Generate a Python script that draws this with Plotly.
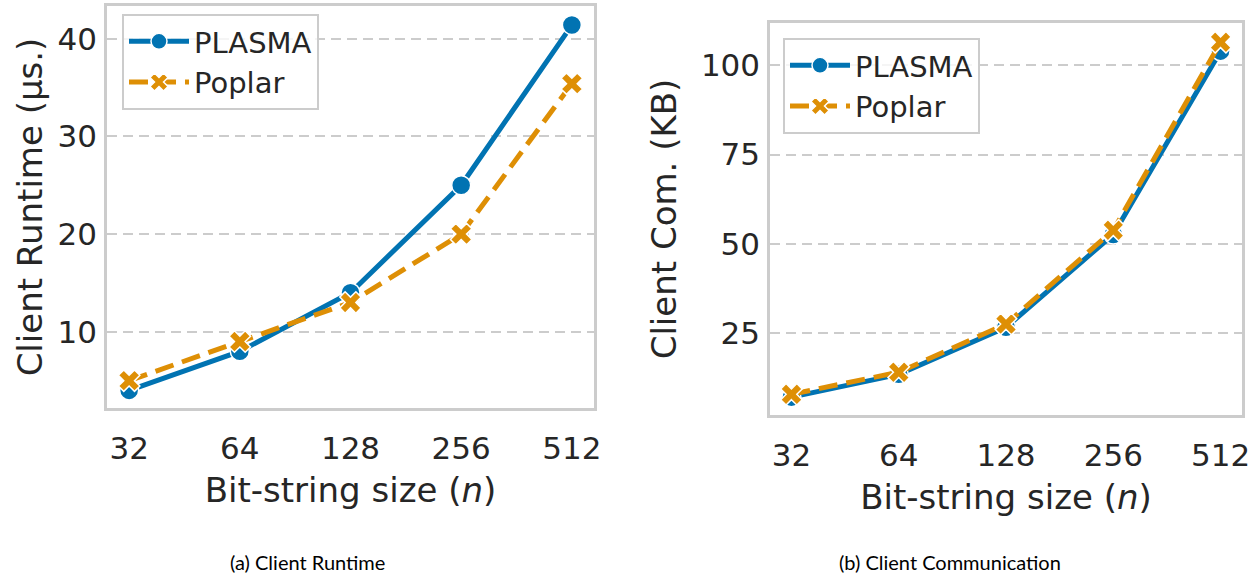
import plotly.graph_objects as go

# Bit-string sizes (categorical x axis)
sizes = ["32", "64", "128", "256", "512"]

# Client runtime in microseconds
runtime_plasma = [4.0, 8.0, 14.0, 25.0, 41.4]
runtime_poplar = [5.0, 9.0, 13.0, 20.0, 35.4]

# Client communication in KB
comm_plasma = [7.0, 13.4, 26.6, 52.6, 104.0]
comm_poplar = [7.8, 14.0, 27.5, 53.8, 106.5]

BLUE = "#0173b2"
ORANGE = "#de8f05"
GRID = "#cccccc"
TEXT = "#262626"
FONT = "DejaVu Sans"

W, H = 1257, 573


def px_x(v):
    return v / W


def px_y(v):
    return 1 - v / H


fig = go.Figure()


def add_series(xaxis, yaxis, legend, plasma, poplar):
    fig.add_trace(go.Scatter(
        x=list(range(len(sizes))), y=plasma, name="PLASMA",
        xaxis=xaxis, yaxis=yaxis, legend=legend,
        mode="lines+markers",
        line=dict(color=BLUE, width=5),
        marker=dict(symbol="circle", size=19, color=BLUE,
                    line=dict(color="white", width=1.5)),
    ))
    fig.add_trace(go.Scatter(
        x=list(range(len(sizes))), y=poplar, name="Poplar",
        xaxis=xaxis, yaxis=yaxis, legend=legend,
        mode="lines+markers",
        line=dict(color=ORANGE, width=5, dash="19px,9px"),
        marker=dict(symbol="x", size=19, color=ORANGE,
                    line=dict(color="white", width=1.5)),
    ))


add_series("x", "y", "legend", runtime_plasma, runtime_poplar)
add_series("x2", "y2", "legend2", comm_plasma, comm_poplar)

xcommon = dict(
    tickmode="array", tickvals=list(range(len(sizes))), ticktext=sizes,
    range=[-0.2, 4.2], showgrid=False, zeroline=False,
    showline=True, linecolor=GRID, linewidth=2.5, mirror=True,
    ticks="outside", ticklen=0, ticklabelstandoff=11,
    tickfont=dict(family=FONT, size=31, color=TEXT),
    title=dict(text="Bit-string size (<i>n</i>)", standoff=14,
               font=dict(family=FONT, size=34, color=TEXT)),
    automargin=False, fixedrange=True,
)
ycommon = dict(
    showgrid=True, gridcolor=GRID, gridwidth=2, griddash="10px,6px",
    zeroline=False, showline=True, linecolor=GRID, linewidth=2.5, mirror=True,
    ticks="outside", ticklen=0, ticklabelstandoff=1,
    tickfont=dict(family=FONT, size=31, color=TEXT),
    automargin=False, fixedrange=True,
)

legend_common = dict(
    bgcolor="rgba(255,255,255,0.8)", bordercolor=GRID, borderwidth=2,
    font=dict(family=FONT, size=29, color=TEXT),
    xanchor="left", yanchor="top", tracegroupgap=0,
    itemwidth=60, entrywidth=205,
)

fig.update_layout(
    width=W, height=H,
    margin=dict(l=0, r=0, t=0, b=0),
    paper_bgcolor="white", plot_bgcolor="white",
    xaxis=dict(domain=[px_x(107), px_x(594)], anchor="y", **xcommon),
    yaxis=dict(domain=[px_y(408), px_y(6)], anchor="x",
               range=[2.2, 43.35], tickvals=[10, 20, 30, 40],
               title=dict(text="Client Runtime (µs.)", standoff=5,
                          font=dict(family=FONT, size=34, color=TEXT)),
               **ycommon),
    xaxis2=dict(domain=[px_x(770), px_x(1242)], anchor="y2", **xcommon),
    yaxis2=dict(domain=[px_y(415), px_y(23)], anchor="x2",
                range=[2.0, 111.9], tickvals=[25, 50, 75, 100],
                title=dict(text="Client Com. (KB)", standoff=14,
                           font=dict(family=FONT, size=34, color=TEXT)),
                **ycommon),
    legend=dict(x=px_x(122), y=px_y(14), **legend_common),
    legend2=dict(x=px_x(783), y=px_y(38), **legend_common),
    annotations=[
        dict(text="(a) Client Runtime", x=px_x(307), y=px_y(562),
             xref="paper", yref="paper", showarrow=False,
             xanchor="center", yanchor="middle",
             font=dict(family="Lato", size=20, color="black")),
        dict(text="(b) Client Communication", x=px_x(950), y=px_y(562),
             xref="paper", yref="paper", showarrow=False,
             xanchor="center", yanchor="middle",
             font=dict(family="Lato", size=20, color="black")),
    ],
)

fig.write_html("out.html")
